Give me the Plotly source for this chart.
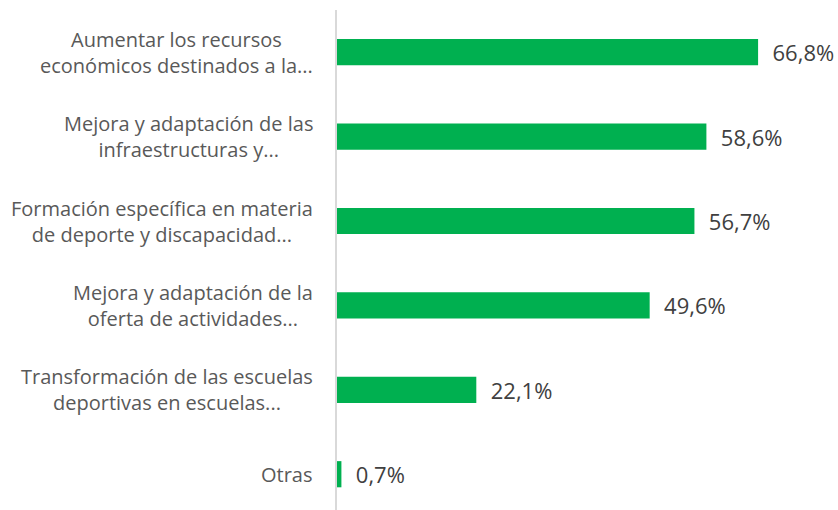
import plotly.graph_objects as go

categories = [
    "Aumentar los recursos<br>económicos destinados a la...",
    "Mejora y adaptación de las<br>infraestructuras y...",
    "Formación específica en materia<br>de deporte y discapacidad...",
    "Mejora y adaptación de la<br>oferta de actividades...",
    "Transformación de las escuelas<br>deportivas en escuelas...",
    "Otras",
]
values = [66.8, 58.6, 56.7, 49.6, 22.1, 0.7]

FONT = "Open Sans"
fig = go.Figure()
fig.add_trace(go.Bar(
    y=list(range(len(categories))),
    x=values,
    orientation="h",
    marker=dict(color="#00B050", line=dict(width=0)),
    width=0.31,
    text=[("%.1f%%" % v).replace(".", ",") for v in values],
    texttemplate="  %{text}",
    textposition="outside",
    constraintext="none",
    textfont=dict(family=FONT, size=22, color="#404040"),
    cliponaxis=False,
    hoverinfo="skip",
))

for i, c in enumerate(categories):
    fig.add_annotation(
        x=0, xref="paper", y=i, yref="y",
        text=c, showarrow=False, xanchor="right", yanchor="middle",
        align="center", xshift=-22,
        font=dict(family=FONT, size=20, color="#595959"),
    )

fig.update_layout(
    width=838, height=510,
    margin=dict(l=337, r=3, t=10, b=0),
    plot_bgcolor="white", paper_bgcolor="white",
    showlegend=False,
    xaxis=dict(range=[0, 79], showgrid=False, showticklabels=False, zeroline=False,
               showline=False, fixedrange=True),
    yaxis=dict(range=[5.424, -0.5], showgrid=False, showticklabels=False,
               zeroline=False, showline=True, linecolor="#D9D9D9", linewidth=2,
               ticks=""),
)

fig.write_html(
    "out.html",
    config={"displayModeBar": False},
    post_script="document.body.style.margin='0';document.body.style.overflow='hidden';",
)
